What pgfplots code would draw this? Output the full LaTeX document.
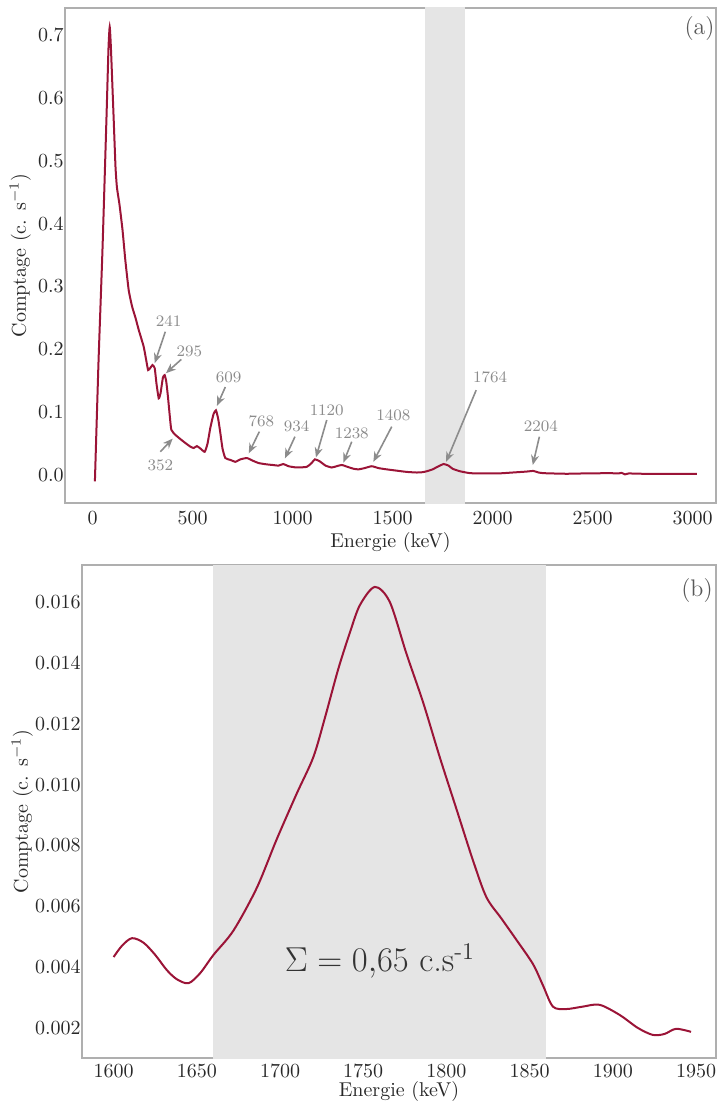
\documentclass[border=0pt]{standalone}
\usepackage{pgfplots}
\pgfplotsset{compat=1.18}
\usetikzlibrary{arrows.meta}
\definecolor{curve}{RGB}{155,20,55}
\definecolor{bandcol}{RGB}{229,229,229}
\definecolor{spine}{RGB}{175,175,175}
\definecolor{anno}{RGB}{140,140,140}
\definecolor{ticktxt}{RGB}{40,40,40}
\tikzset{
  anarrow/.style={anno, line width=0.8pt, -{Stealth[length=5pt,width=4pt]}},
  antext/.style={anno, font=\footnotesize},
}
\pgfplotsset{
  common/.style={
    scale only axis,
    axis line style={spine, line width=0.6pt},
    major tick length=0pt,
    tick label style={color=ticktxt},
    yticklabel style={inner xsep=0.5pt},
    label style={color=ticktxt},
    xlabel={Energie (keV)},
    ylabel={Comptage (c. s$^{-1}$)},
    /pgf/number format/1000 sep={},
    clip=true,
  },
}
\begin{document}
\begin{tikzpicture}
\path[use as bounding box] (0,0) rectangle (359pt,-550.5pt);
% ---------- panel (a)
\begin{axis}[common,
  at={(32.5pt,-4pt)}, anchor=north west,
  width=325.5pt, height=247.5pt,
  xmin=-137.5, xmax=3117, ymin=-0.0445, ymax=0.743,
  xtick={0,500,1000,1500,2000,2500,3000},
  ytick={0,0.1,0.2,0.3,0.4,0.5,0.6,0.7},
  yticklabel style={/pgf/number format/fixed,/pgf/number format/fixed zerofill,/pgf/number format/precision=1},
  xticklabel style={yshift=-1pt},
  xlabel style={yshift=3pt},
  ylabel style={yshift=-0.5pt},
]
\fill[bandcol] (axis cs:1660,-1) rectangle (axis cs:1860,1);
\addplot[curve, line width=1pt, smooth, tension=0.3] coordinates {
(12,-0.010) (30,0.18) (50,0.36) (70,0.57) (80,0.68) (86,0.713) (92,0.68) (106,0.565) (115,0.49) (122,0.458)
(135,0.43) (150,0.39) (164,0.342) (181,0.294) (198,0.268) (215,0.25) (231,0.231) (256,0.204) (270,0.18)
(278,0.167) (288,0.170) (300,0.175) (311,0.170) (320,0.145) (331,0.122) (340,0.13) (352,0.155) (361,0.159)
(369,0.148) (377,0.125) (386,0.095) (394,0.072) (414,0.064) (440,0.057) (464,0.051) (490,0.045) (506,0.043)
(522,0.046) (540,0.042) (561,0.037) (575,0.050) (589,0.075) (605,0.097) (617,0.103) (628,0.090) (639,0.067)
(650,0.042) (664,0.027) (690,0.024) (714,0.021) (740,0.025) (772,0.027) (800,0.023) (831,0.019) (870,0.017)
(900,0.016) (930,0.015) (954,0.0175) (980,0.014) (1021,0.012) (1071,0.013) (1095,0.019) (1112,0.025)
(1135,0.022) (1165,0.015) (1196,0.012) (1220,0.014) (1246,0.016) (1275,0.013) (1305,0.010) (1329,0.009)
(1360,0.011) (1396,0.014) (1430,0.011) (1471,0.009) (1520,0.007) (1570,0.005) (1621,0.004) (1650,0.0045)
(1671,0.006) (1700,0.009) (1730,0.014) (1755,0.0175) (1780,0.015) (1800,0.010) (1837,0.006) (1887,0.003)
(1950,0.0025) (2037,0.0027) (2100,0.004) (2170,0.0055) (2204,0.0065) (2230,0.004) (2254,0.003) (2300,0.0025)
(2371,0.002) (2450,0.0025) (2530,0.0028) (2587,0.003) (2630,0.0025) (2645,0.0035) (2662,0.001) (2680,0.0025)
(2750,0.002) (2850,0.002) (2950,0.002) (3021,0.002)
};
% annotations
\node[antext] at (axis cs:381,0.245) {241};
\draw[anarrow] (axis cs:364,0.228) -- (axis cs:311,0.178);
\node[antext] at (axis cs:484,0.196) {295};
\draw[anarrow] (axis cs:444,0.184) -- (axis cs:367,0.162);
\node[antext] at (axis cs:339,0.016) {352};
\draw[anarrow] (axis cs:339,0.037) -- (axis cs:401,0.058);
\node[antext] at (axis cs:681,0.156) {609};
\draw[anarrow] (axis cs:664,0.140) -- (axis cs:622,0.110);
\node[antext] at (axis cs:844,0.086) {768};
\draw[anarrow] (axis cs:834,0.069) -- (axis cs:781,0.0345);
\node[antext] at (axis cs:1021,0.077) {934};
\draw[anarrow] (axis cs:1012,0.061) -- (axis cs:962,0.0265);
\node[antext] at (axis cs:1171,0.103) {1120};
\draw[anarrow] (axis cs:1171,0.0875) -- (axis cs:1117,0.028);
\node[antext] at (axis cs:1296,0.067) {1238};
\draw[anarrow] (axis cs:1296,0.053) -- (axis cs:1254,0.0196);
\node[antext] at (axis cs:1504,0.0955) {1408};
\draw[anarrow] (axis cs:1496,0.077) -- (axis cs:1404,0.021);
\node[antext] at (axis cs:1988,0.156) {1764};
\draw[anarrow] (axis cs:1918,0.135) -- (axis cs:1768,0.021);
\node[antext] at (axis cs:2241,0.078) {2204};
\draw[anarrow] (axis cs:2234,0.061) -- (axis cs:2201,0.016);
\node[color=black!65, font=\large] at (axis cs:3035,0.71) {(a)};
\end{axis}
% ---------- panel (b)
\begin{axis}[common,
  at={(41pt,-282.5pt)}, anchor=north west,
  width=317pt, height=246.5pt,
  xmin=1581, xmax=1962, ymin=0.00101, ymax=0.01722,
  xtick={1600,1650,1700,1750,1800,1850,1900,1950},
  ytick={0.002,0.004,0.006,0.008,0.010,0.012,0.014,0.016},
  yticklabel style={/pgf/number format/fixed,/pgf/number format/fixed zerofill,/pgf/number format/precision=3},
  scaled y ticks=false,
  xlabel style={yshift=5pt},
  ylabel style={yshift=-3pt},
]
\fill[bandcol] (axis cs:1660,0) rectangle (axis cs:1860,0.02);
\addplot[curve, line width=1pt, smooth, tension=0.5] coordinates {
(1600,0.00433) (1605,0.0047) (1611,0.00495) (1618,0.0048) (1625,0.0044) (1632,0.0039) (1638,0.0036)
(1645,0.00347) (1652,0.0038) (1660,0.0044) (1672,0.0052) (1686,0.0066) (1698,0.0082) (1710,0.0097)
(1720,0.0109) (1727,0.0122) (1735,0.0138) (1742,0.0150) (1748,0.0159) (1757,0.0165) (1766,0.0160)
(1776,0.0143) (1786,0.0127) (1796,0.0109) (1806,0.0092) (1816,0.0075) (1824,0.0063) (1833,0.0056)
(1842,0.0049) (1852,0.0041) (1858,0.0034) (1864,0.0027) (1872,0.00262) (1882,0.0027) (1892,0.00276)
(1904,0.00243) (1915,0.0020) (1924,0.00177) (1931,0.0018) (1938,0.00197) (1947,0.00187)
};
\node[color=black!80, font=\LARGE] at (axis cs:1760,0.0042) {$\Sigma = 0{,}65$ c.s\textsuperscript{-1}};
\node[color=black!65, font=\large] at (rel axis cs:0.970,0.949) {(b)};
\end{axis}
\end{tikzpicture}
\end{document}
